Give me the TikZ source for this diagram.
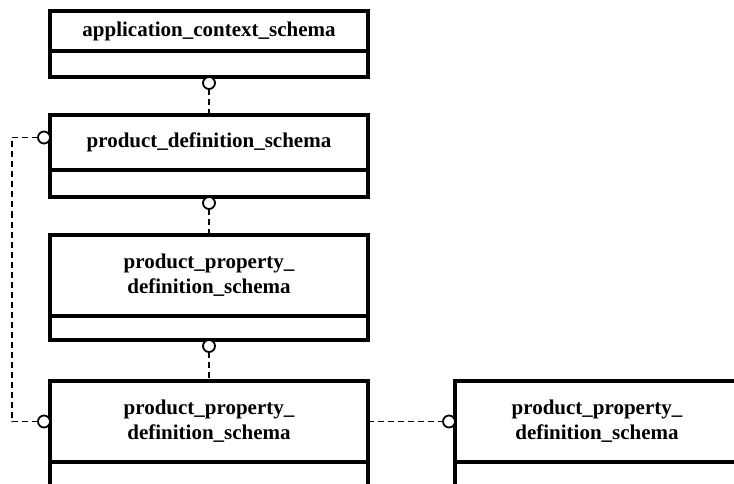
\documentclass[tikz,border=0pt]{standalone}
\usepackage{fontspec}
\setmainfont{Liberation Serif}
\usetikzlibrary{positioning}
\begin{document}
\begin{tikzpicture}[x=1pt,y=-1pt,
  schema/.style={draw, line width=3.5pt, outer sep=0pt, inner sep=0pt, minimum width=318pt,
    align=center, font=\bfseries\fontsize{21}{25}\selectfont},
  link/.style={dash pattern=on 6pt off 4pt, line width=1.8pt},
  ring/.style={circle, draw, line width=1.8pt, fill=white, minimum size=12pt, inner sep=0pt, outer sep=0pt}]
\useasboundingbox (0,0) rectangle (734,484);
\clip (0,0) rectangle (734,484);
% schemas
\node[schema, minimum height=40pt] (app) at (209,31) {application\_context\_schema};
\node[schema, minimum height=26pt, below=0pt of app] (app-x) {};
\node[schema, minimum height=55pt] (pdef) at (209,142.5) {product\_definition\_schema};
\node[schema, minimum height=27pt, below=0pt of pdef] (pdef-x) {};
\node[schema, minimum height=81pt] (ppd) at (209,275.5) {product\_property\_\\definition\_schema};
\node[schema, minimum height=24pt, below=0pt of ppd] (ppd-x) {};
\node[schema, minimum height=81pt] (ppdA) at (209,421.5) {product\_property\_\\definition\_schema};
\node[schema, minimum height=30pt, below=0pt of ppdA] (ppdA-x) {};
\node[schema, minimum width=284pt, minimum height=81pt] (ppdB) at (597,421.5) {product\_property\_\\definition\_schema};
\node[schema, minimum width=284pt, minimum height=30pt, below=0pt of ppdB] (ppdB-x) {};
% references
\node[ring, below=0pt of app-x] (r1) {};
\draw[link] (r1) -- (pdef);
\node[ring, below=0pt of pdef-x] (r2) {};
\draw[link] (r2) -- (ppd);
\node[ring, below=0pt of ppd-x] (r3) {};
\draw[link] (r3) -- (ppdA);
\node[ring, anchor=east] (r4) at ([yshift=5pt]pdef.west) {};
\node[ring, left=0pt of ppdA] (r5) {};
\draw[link] (r4.west) -- ++(-26,0) |- (r5.west);
\node[ring, left=0pt of ppdB] (r6) {};
\draw[link] (ppdA) -- (r6);
\end{tikzpicture}
\end{document}
